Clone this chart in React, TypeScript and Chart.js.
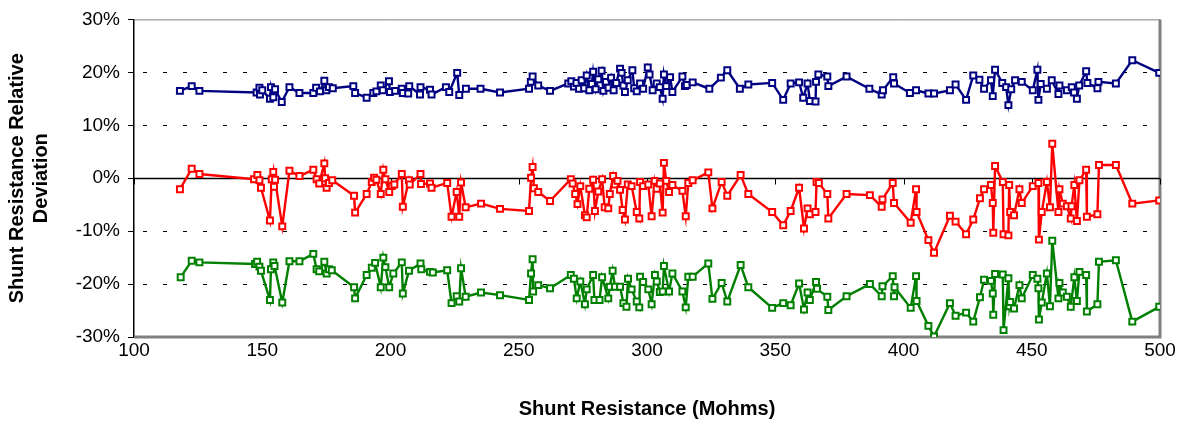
import React, { useEffect, useRef } from "react";
import { Chart, registerables } from "chart.js";

Chart.register(...registerables);

// ---- data ----
const blueX = [117.9, 122.5, 125.5, 147.8, 148.9, 149.1, 150.0, 153.0, 153.4, 154.3, 155.0, 157.6, 160.6, 164.5, 169.9, 171.0, 172.5, 174.2, 175.0, 176.0, 177.5, 185.5, 186.2, 190.7, 193.3, 194.5, 196.2, 197.0, 199.4, 199.8, 201.8, 204.4, 204.8, 206.9, 207.3, 211.5, 211.7, 215.4, 216.0, 221.6, 222.9, 226.0, 226.8, 229.4, 235.1, 242.7, 254.0, 254.7, 255.4, 257.6, 262.2, 269.3, 270.5, 271.5, 272.5, 273.5, 274.5, 275.5, 276.5, 277.5, 278.5, 279.0, 280.0, 281.0, 282.3, 283.0, 284.0, 285.0, 286.0, 287.0, 288.0, 289.5, 290.1, 290.8, 291.4, 292.5, 294.3, 295.0, 296.0, 297.3, 298.5, 300.3, 301.0, 302.2, 303.8, 305.0, 306.1, 306.6, 307.5, 309.0, 309.9, 313.8, 314.8, 315.5, 317.8, 324.3, 328.8, 331.3, 336.2, 339.5, 348.8, 353.1, 356.0, 359.3, 360.9, 362.6, 363.5, 365.7, 365.9, 366.8, 370.3, 370.7, 377.8, 386.7, 391.5, 392.0, 396.0, 396.3, 402.5, 404.9, 409.7, 411.9, 418.1, 420.3, 424.4, 427.2, 429.6, 431.4, 434.1, 434.8, 435.7, 438.5, 440.0, 440.9, 442.0, 443.5, 446.1, 450.4, 452.2, 452.6, 453.5, 455.9, 457.8, 460.4, 460.8, 463.7, 465.6, 466.5, 467.6, 468.5, 471.2, 471.7, 475.6, 476.0, 482.8, 489.2, 499.7];
const blueY = [16.5, 17.4, 16.5, 16.2, 17.1, 15.8, 16.6, 15.0, 17.2, 15.3, 16.8, 14.4, 17.2, 16.1, 16.1, 17.1, 16.4, 18.4, 16.6, 17.2, 17.0, 17.4, 16.1, 15.2, 16.1, 16.4, 17.5, 16.6, 18.3, 16.3, 16.5, 16.9, 16.1, 16.0, 17.4, 15.8, 17.2, 16.7, 15.8, 17.2, 16.3, 19.9, 15.7, 16.9, 16.9, 16.2, 16.9, 18.2, 19.2, 17.5, 16.5, 17.9, 18.3, 17.3, 18.0, 16.9, 18.5, 17.0, 19.4, 16.6, 17.8, 20.1, 16.8, 18.7, 20.3, 16.5, 18.2, 17.1, 19.0, 16.6, 18.0, 20.7, 19.9, 17.5, 16.3, 18.5, 20.4, 17.0, 16.4, 17.9, 16.9, 20.9, 19.6, 16.6, 17.9, 17.2, 15.0, 19.6, 17.4, 19.1, 16.3, 19.2, 17.4, 17.6, 18.1, 16.9, 19.0, 20.4, 16.9, 17.7, 18.0, 14.8, 17.9, 18.1, 15.2, 17.9, 14.6, 14.5, 18.2, 19.6, 19.2, 17.4, 19.2, 16.9, 15.8, 16.6, 19.1, 17.9, 16.1, 16.6, 16.0, 16.0, 16.6, 17.7, 14.8, 19.4, 18.6, 16.9, 18.5, 15.5, 20.5, 18.0, 17.2, 13.8, 16.8, 18.5, 18.2, 16.6, 20.5, 14.8, 17.8, 16.9, 18.5, 15.9, 17.5, 16.6, 17.2, 16.2, 15.0, 17.5, 20.2, 18.0, 17.0, 18.2, 17.9, 22.3, 19.9];

const redX = [117.9, 122.5, 125.5, 146.8, 148.1, 148.9, 149.5, 153.0, 153.7, 154.3, 154.6, 155.0, 157.8, 160.6, 164.5, 169.9, 171.2, 172.2, 174.2, 174.5, 175.1, 176.0, 177.3, 185.8, 186.2, 190.7, 192.7, 193.6, 194.5, 196.2, 197.2, 198.0, 199.5, 200.5, 201.5, 204.4, 204.8, 207.2, 207.5, 211.7, 211.9, 215.4, 216.0, 222.1, 223.8, 225.8, 226.8, 227.5, 229.3, 235.3, 242.7, 254.0, 254.8, 255.4, 255.9, 257.6, 262.2, 270.3, 271.0, 272.0, 272.9, 274.0, 275.8, 276.5, 277.5, 279.0, 279.7, 281.0, 282.5, 283.5, 284.9, 285.5, 286.8, 287.5, 288.5, 289.5, 290.5, 291.4, 292.5, 294.0, 296.0, 297.0, 297.3, 298.5, 300.5, 301.8, 303.0, 303.8, 305.0, 306.1, 306.6, 307.5, 308.6, 309.9, 313.8, 315.1, 316.1, 317.8, 323.9, 325.5, 329.1, 331.3, 336.5, 339.5, 348.8, 353.1, 356.0, 359.3, 361.2, 362.6, 363.5, 365.7, 366.1, 367.0, 370.3, 370.7, 377.8, 386.9, 391.5, 391.8, 395.8, 396.3, 402.8, 404.9, 405.1, 409.7, 411.9, 418.1, 420.3, 424.4, 427.2, 429.8, 431.4, 434.1, 434.8, 435.0, 435.7, 438.7, 439.0, 440.9, 441.2, 441.6, 443.1, 445.2, 446.1, 450.4, 452.6, 452.8, 453.9, 455.9, 457.1, 458.0, 460.4, 460.8, 462.1, 463.7, 465.2, 465.5, 466.6, 467.6, 468.6, 471.2, 471.5, 475.6, 476.2, 482.8, 489.2, 499.7];
const redY = [-2.1, 1.8, 0.8, -0.2, 0.6, -0.4, -1.8, -8.0, -0.2, 1.2, -1.6, -0.3, -9.1, 1.4, 0.4, 1.6, -0.2, -1.0, 2.8, 0.0, -1.8, -0.9, -0.4, -3.3, -6.5, -3.0, -0.7, 0.1, -0.3, -3.0, 1.6, -0.2, -2.6, -1.5, -1.2, 0.8, -5.4, -0.4, -1.2, 0.8, -1.1, -1.0, -1.8, -0.9, -7.3, -2.6, -7.3, -0.8, -5.5, -4.8, -5.8, -6.2, 0.1, 2.1, -1.9, -2.6, -4.3, -0.2, -1.0, -3.0, -4.9, -1.5, -7.0, -7.4, -2.0, -0.3, -6.2, -2.5, -0.2, -5.5, -5.7, -3.0, 0.4, -1.2, -0.5, -2.2, -6.0, -7.8, -1.2, -1.5, -6.4, -7.6, -0.7, -1.5, -1.2, -7.2, -0.5, -2.0, -1.0, -6.5, 2.9, -0.5, -2.6, -1.3, -2.4, -7.2, -0.9, -0.4, 1.1, -5.7, -0.7, -3.3, 0.6, -3.0, -6.4, -8.9, -6.2, -1.8, -9.5, -5.7, -6.8, -6.4, -0.7, -0.9, -3.0, -7.6, -3.0, -3.2, -5.4, -4.0, -0.9, -4.7, -8.4, -2.1, -6.4, -11.7, -14.1, -7.1, -8.2, -10.6, -7.8, -3.8, -2.1, -1.3, -4.7, -10.3, 2.3, -0.7, -10.6, -10.8, -1.3, -6.4, -7.0, -2.1, -4.7, -1.5, -0.9, -11.6, -6.4, -0.7, -5.5, 6.5, -6.4, -2.1, -4.8, -5.3, -7.6, -5.3, -1.3, -8.1, -0.4, 1.6, -7.3, -6.8, 2.5, 2.5, -4.8, -4.2];

const greenX = [118.2, 122.5, 125.5, 147.2, 148.0, 148.9, 149.5, 153.0, 153.4, 154.3, 154.8, 157.8, 160.6, 164.5, 169.9, 171.2, 172.2, 174.2, 175.1, 176.0, 177.1, 185.8, 186.2, 190.7, 192.7, 194.0, 196.2, 197.2, 198.0, 199.5, 201.1, 204.4, 204.8, 207.2, 211.7, 212.0, 215.4, 216.5, 222.1, 223.8, 225.8, 226.8, 227.5, 229.3, 235.3, 242.7, 254.0, 254.8, 255.4, 255.6, 257.6, 262.2, 270.3, 271.5, 272.6, 274.0, 275.8, 276.5, 279.0, 279.5, 281.5, 282.5, 284.9, 285.5, 286.6, 287.5, 289.5, 290.8, 292.0, 292.6, 294.0, 296.0, 297.0, 297.3, 298.5, 300.5, 301.8, 303.1, 303.8, 305.0, 306.1, 306.6, 308.6, 309.9, 313.8, 315.1, 316.1, 317.8, 323.9, 325.5, 329.1, 331.3, 336.5, 339.5, 348.8, 353.1, 356.0, 359.3, 361.2, 362.6, 363.5, 365.9, 366.3, 370.3, 370.7, 377.8, 386.9, 391.5, 391.8, 395.8, 396.3, 396.5, 402.8, 404.9, 405.1, 409.7, 411.9, 418.1, 420.3, 424.4, 427.2, 429.8, 431.4, 434.1, 434.8, 435.0, 435.7, 438.7, 439.0, 440.9, 441.3, 441.6, 443.1, 445.2, 446.1, 450.4, 452.2, 452.6, 452.8, 453.9, 455.9, 457.1, 458.0, 460.4, 460.8, 462.1, 463.7, 465.2, 466.6, 467.6, 468.6, 471.2, 471.5, 475.6, 476.2, 482.8, 489.2, 499.7];
const greenY = [-18.7, -15.6, -15.9, -16.2, -15.8, -16.7, -17.5, -23.0, -17.2, -15.9, -16.6, -23.5, -15.7, -15.7, -14.3, -17.2, -17.6, -15.8, -18.0, -17.2, -17.4, -20.6, -22.7, -18.3, -16.9, -16.0, -20.6, -15.0, -16.8, -20.6, -18.0, -15.9, -21.8, -17.5, -16.1, -17.2, -17.7, -17.8, -17.4, -23.6, -22.3, -23.3, -17.0, -22.4, -21.6, -22.1, -23.0, -18.0, -15.3, -21.4, -20.2, -20.8, -18.3, -19.0, -22.7, -19.5, -23.8, -21.0, -18.3, -23.0, -23.0, -18.7, -22.7, -20.5, -17.5, -20.5, -20.5, -23.6, -24.3, -19.0, -21.0, -23.3, -24.4, -18.6, -19.6, -21.0, -23.8, -18.3, -19.5, -21.5, -21.4, -16.6, -21.4, -18.0, -21.4, -24.4, -18.6, -18.6, -16.1, -22.8, -19.8, -23.3, -16.4, -20.6, -24.5, -23.6, -24.0, -19.9, -24.8, -21.6, -23.0, -19.6, -20.9, -22.4, -24.9, -22.3, -20.0, -22.3, -20.4, -18.5, -22.3, -20.6, -24.5, -18.5, -23.2, -27.9, -29.9, -23.6, -26.0, -25.4, -27.1, -22.5, -19.2, -19.4, -21.8, -25.8, -18.1, -18.2, -28.7, -18.9, -24.2, -23.4, -24.6, -20.2, -22.7, -18.3, -19.0, -20.8, -26.7, -23.5, -18.0, -24.2, -11.8, -22.7, -19.8, -21.6, -22.4, -24.3, -18.7, -23.2, -17.7, -18.3, -25.2, -23.8, -15.8, -15.5, -27.1, -24.3];

const xTickValues = [100, 150, 200, 250, 300, 350, 400, 450, 500];
const yGridValues = [20, 10, -10, -20];
const xAxisTitle = "Shunt Resistance (Mohms)";
const yAxisTitle = ["Shunt Resistance Relative", "Deviation"];

const FONT = "'Liberation Sans', Arial, sans-serif";

function pts(xs: number[], ys: number[]) {
  return xs.map((x, i) => ({ x, y: ys[i] }));
}

const framePlugin = {
  id: "excelFrame",
  beforeDatasetsDraw(chart: any) {
    const { ctx, chartArea: a, scales } = chart;
    const x = scales.x;
    const y = scales.y;
    ctx.save();
    // dashed grid lines
    ctx.strokeStyle = "#000";
    ctx.lineWidth = 1;
    ctx.setLineDash([4, 16]);
    ctx.lineDashOffset = 11;
    for (const v of yGridValues) {
      const py = Math.round(y.getPixelForValue(v)) + 0.5;
      ctx.beginPath();
      ctx.moveTo(a.left, py);
      ctx.lineTo(a.right, py);
      ctx.stroke();
    }
    ctx.setLineDash([]);
    // plot area border (grey)
    ctx.strokeStyle = "#808080";
    ctx.lineWidth = 1;
    ctx.beginPath();
    ctx.moveTo(a.left, a.top + 0.5);
    ctx.lineTo(a.right, a.top + 0.5);
    ctx.stroke();
    ctx.lineWidth = 3;
    ctx.beginPath();
    ctx.moveTo(a.left, a.bottom);
    ctx.lineTo(a.right, a.bottom);
    ctx.lineTo(a.right, a.top);
    ctx.stroke();
    // x axis at 0 with tick marks
    const py0 = Math.round(y.getPixelForValue(0)) + 0.5;
    ctx.strokeStyle = "#000";
    ctx.lineWidth = 1.5;
    ctx.beginPath();
    ctx.moveTo(a.left, py0);
    ctx.lineTo(a.right, py0);
    ctx.stroke();
    ctx.lineWidth = 1;
    for (const v of xTickValues) {
      const px = Math.round(x.getPixelForValue(v)) + 0.5;
      ctx.beginPath();
      ctx.moveTo(px, py0);
      ctx.lineTo(px, py0 + 6);
      ctx.stroke();
    }
    ctx.restore();
  },
};

function ds(label: string, color: string, xs: number[], ys: number[]) {
  return {
    label,
    data: pts(xs, ys),
    showLine: true,
    borderColor: color,
    borderWidth: 2.4,
    pointStyle: "rect",
    pointRadius: 4.2,
    pointBorderWidth: 2,
    pointBorderColor: color,
    pointBackgroundColor: "#ffffff",
    tension: 0,
  };
}

export default function App() {
  const ref = useRef<HTMLCanvasElement | null>(null);
  useEffect(() => {
    if (!ref.current) return;
    const chart = new Chart(ref.current, {
      type: "scatter",
      data: {
        datasets: [
          ds("Blue", "#000080", blueX, blueY),
          ds("Red", "#ff0000", redX, redY),
          ds("Green", "#008000", greenX, greenY),
        ] as any,
      },
      options: {
        animation: false,
        responsive: true,
        maintainAspectRatio: false,
        devicePixelRatio: 1,
        layout: { padding: { left: 0, right: 23, top: 19, bottom: 0 } },
        plugins: { legend: { display: false }, tooltip: { enabled: false } },
        scales: {
          x: {
            type: "linear",
            min: 100,
            max: 500,
            afterFit(s: any) {
              s.height = 88;
            },
            afterBuildTicks(s: any) {
              s.ticks = xTickValues.map((v) => ({ value: v }));
            },
            grid: { display: false, drawTicks: false },
            border: { display: false },
            ticks: {
              color: "#000",
              padding: 2,
              maxRotation: 0,
              font: { family: FONT, size: 19 },
            },
            title: {
              display: true,
              text: xAxisTitle,
              color: "#000",
              padding: { top: 0, bottom: 4 },
              font: { family: FONT, size: 20, weight: "bold" },
            },
          },
          y: {
            type: "linear",
            min: -30,
            max: 30,
            afterFit(s: any) {
              s.width = 134;
            },
            ticks: {
              stepSize: 10,
              color: "#000",
              padding: 8,
              font: { family: FONT, size: 19 },
              callback: (v: any) => v + "%",
            },
            grid: {
              drawOnChartArea: false,
              drawTicks: true,
              tickLength: 6,
              color: "#000",
            },
            border: { display: true, color: "#000", width: 1.5 },
            title: {
              display: true,
              text: yAxisTitle,
              color: "#000",
              padding: { top: 5, bottom: 0 },
              font: { family: FONT, size: 20, weight: "bold", lineHeight: 1.2 },
            },
          },
        },
      } as any,
      plugins: [framePlugin],
    });
    return () => chart.destroy();
  }, []);
  return (
    <div style={{ position: "absolute", left: 0, top: 0, width: 1183, height: 425, background: "#fff" }}>
      <canvas ref={ref} />
    </div>
  );
}
